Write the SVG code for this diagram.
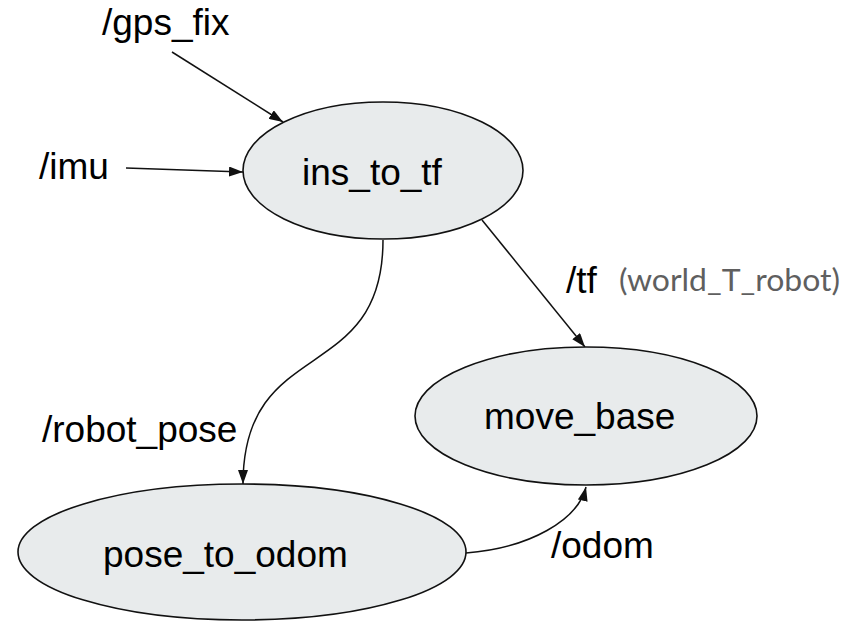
<svg xmlns="http://www.w3.org/2000/svg" width="858" height="622" viewBox="0 0 858 622">
  <defs>
    <style>
      .node { fill: #e8ebec; stroke: #111; stroke-width: 1.6; }
      .label { font-family: "Liberation Sans", Arial, sans-serif; font-size: 37px; fill: #000; }
      .note { font-family: Lato, "Open Sans", sans-serif; font-size: 30px; fill: #5f5f5f; }
      .edge { fill: none; stroke: #111; stroke-width: 1.5; marker-end: url(#arrow); }
    </style>
    <marker id="arrow" markerUnits="userSpaceOnUse" markerWidth="14" markerHeight="10" refX="14" refY="5" orient="auto">
      <path d="M0,0 L14,5 L0,10 z" fill="#111"/>
    </marker>
  </defs>
  <rect width="858" height="622" fill="#fff"/>

  <!-- topic connectors -->
  <g id="connectors">
    <path class="edge" d="M172,52 L283,122"/>
    <path class="edge" d="M126,168 L243,172"/>
    <path class="edge" d="M482,220 L585,347"/>
    <path class="edge" d="M383,240 C383,387 243,334 243,484"/>
    <path class="edge" d="M466,553 C530,548 578,520 586,487"/>
  </g>

  <!-- topic labels -->
  <g id="topics">
    <text class="label" x="102" y="35">/gps_fix</text>
    <text class="label" x="39" y="179">/imu</text>
    <text class="label" x="566" y="293">/tf</text>
    <text class="note" x="619" y="291" textLength="221" lengthAdjust="spacingAndGlyphs">(world_T_robot)</text>
    <text class="label" x="42" y="442">/robot_pose</text>
    <text class="label" x="551" y="558">/odom</text>
  </g>

  <!-- nodes -->
  <g id="ins_to_tf">
    <ellipse class="node" cx="383" cy="170.5" rx="140" ry="68.5"/>
    <text class="label" x="302" y="185">ins_to_tf</text>
  </g>
  <g id="move_base">
    <ellipse class="node" cx="586" cy="416" rx="171" ry="69"/>
    <text class="label" x="484" y="429">move_base</text>
  </g>
  <g id="pose_to_odom">
    <ellipse class="node" cx="242" cy="552" rx="224" ry="68"/>
    <text class="label" x="103" y="567">pose_to_odom</text>
  </g>
</svg>
